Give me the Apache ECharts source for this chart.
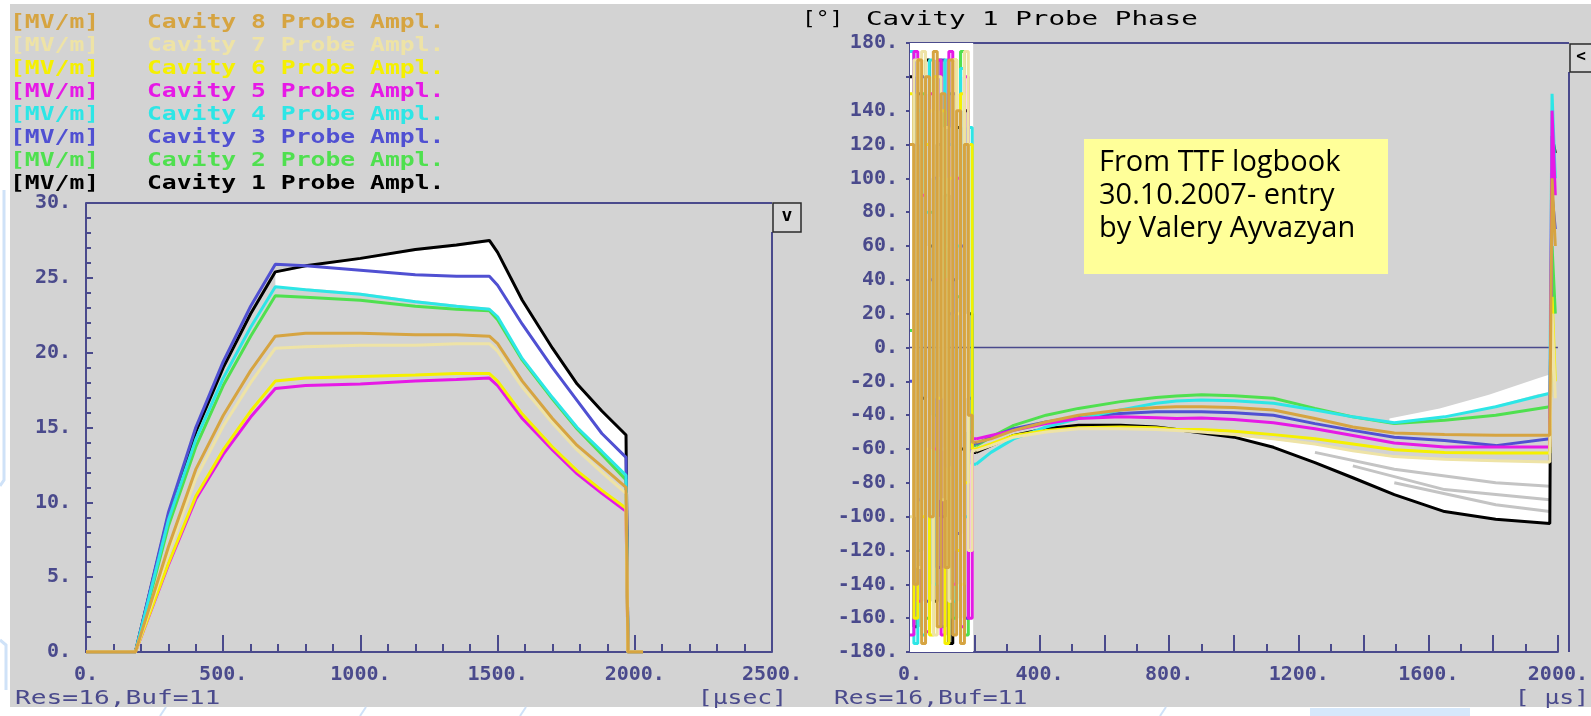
<!DOCTYPE html>
<html>
<head>
<meta charset="utf-8">
<script src="https://cdn.jsdelivr.net/npm/echarts@6.0.0/dist/echarts.min.js"></script>
<style>
  html, body { margin: 0; padding: 0; background: #ffffff; }
  #chart { width: 1591px; height: 716px; }
</style>
</head>
<body>
<div id="chart"></div>
<script>
// ---------- Probe amplitude (MV/m) vs time (usec) ----------
const ampTime = [0, 180, 300, 400, 500, 600, 690, 800, 1000, 1200, 1350, 1470, 1500, 1590, 1700, 1790, 1880, 1968, 1975, 2030];
const ampCav1 = [0, 0, 9.1, 14.7, 19.0, 22.6, 25.4, 25.8, 26.3, 26.9, 27.2, 27.5, 26.7, 23.5, 20.3, 17.9, 16.1, 14.5, 0, 0];
const ampCav2 = [0, 0, 8.4, 13.7, 17.8, 21.1, 23.8, 23.7, 23.5, 23.1, 22.9, 22.8, 22.2, 19.5, 16.9, 14.9, 13.2, 11.5, 0, 0];
const ampCav3 = [0, 0, 9.3, 15.0, 19.4, 23.1, 25.9, 25.8, 25.5, 25.2, 25.1, 25.1, 24.5, 21.9, 19.0, 16.8, 14.6, 13.0, 0, 0];
const ampCav4 = [0, 0, 8.8, 14.2, 18.3, 21.7, 24.4, 24.2, 23.9, 23.4, 23.1, 22.9, 22.4, 19.6, 17.0, 15.0, 13.4, 11.8, 0, 0];
const ampCav5 = [0, 0, 5.8, 10.2, 13.2, 15.7, 17.6, 17.8, 17.9, 18.1, 18.2, 18.3, 17.8, 15.6, 13.5, 11.9, 10.6, 9.4, 0, 0];
const ampCav6 = [0, 0, 5.9, 10.4, 13.5, 16.1, 18.1, 18.3, 18.4, 18.5, 18.6, 18.6, 18.1, 15.9, 13.7, 12.1, 10.8, 9.6, 0, 0];
const ampCav7 = [0, 0, 6.6, 11.6, 15.1, 18.0, 20.3, 20.4, 20.5, 20.5, 20.6, 20.6, 20.1, 17.7, 15.3, 13.5, 12.0, 10.6, 0, 0];
const ampCav8 = [0, 0, 7.0, 12.2, 15.8, 18.8, 21.1, 21.3, 21.3, 21.2, 21.2, 21.1, 20.6, 18.1, 15.6, 13.8, 12.4, 11.0, 0, 0];

// persistence envelope of earlier pulses (white)
const ampBandTime = [690, 800, 1000, 1200, 1350, 1470, 1500, 1590, 1700, 1790, 1880, 1968];
const ampBandHigh = [25.3, 25.7, 26.2, 26.8, 27.1, 27.4, 26.6, 23.4, 20.2, 17.8, 16.0, 14.4];
const ampBandLow  = [24.4, 24.3, 24.0, 23.5, 23.2, 23.0, 22.5, 19.7, 17.1, 15.1, 13.5, 11.9];

// ---------- Probe phase (deg) vs time (us) ----------
// before the RF pulse the phase is undefined and jumps over the full range
const noiseTime = [0, 12, 24, 36, 48, 60, 72, 84, 96, 108, 120, 132, 144, 156, 168, 180, 192, 204];
const noiseCav1 = [160, -165, 150, -30, 170, 60, -150, 120, -100, 90, -175, 40, 130, -60, 140, 20, -62, -62];
const noiseCav2 = [10, 170, -120, 150, -160, 80, -40, 170, -165, 60, 150, -160, 30, 175, -170, -50, -58, -58];
const noiseCav3 = [-20, 120, -90, 160, -150, 40, 100, -130, 170, -70, 20, 150, -110, 60, -160, -30, -57, -57];
const noiseCav4 = [175, -175, 140, -170, 80, 170, -140, 100, -60, 170, 120, -150, 60, 165, -100, 130, -69, -69];
const noiseCav5 = [-170, 175, -150, 90, -168, 150, -60, 170, -170, 40, 175, -140, 100, -165, 160, -160, -54, -54];
const noiseCav6 = [150, -160, 170, -100, 120, -170, 160, -30, 140, -175, 100, 170, -120, 150, -80, 120, -60, -60];
const noiseCav7 = [-100, 170, -130, 175, -60, 140, -170, 160, -90, 130, -150, 170, 20, -140, 175, -120, -61, -61];
const noiseCav8 = [120, -140, 170, -175, 160, -100, 175, -165, 150, -130, 170, -170, 140, -175, 120, -40, -56, -56];

const phaseTime = [204, 250, 320, 420, 520, 650, 760, 822, 900, 1000, 1122, 1250, 1367, 1495, 1650, 1808, 1975];
const phaseCav1 = [-62, -58, -52, -48, -46, -46, -47, -48.5, -50.5, -53, -59, -68, -77, -87, -97, -101.5, -104];
const phaseCav2 = [-58, -53, -46, -40, -36, -32, -29.5, -28.7, -28, -28.5, -30, -36, -41, -45, -43, -40, -35];
const phaseCav3 = [-57, -53, -48, -44, -41, -39, -38, -38, -38, -38.5, -40, -45, -49, -53, -55, -58, -54];
const phaseCav4 = [-69, -62, -54, -47, -42, -37, -33, -31.6, -31, -31.5, -33, -37, -41, -44.5, -41, -35, -27];
const phaseCav5 = [-54, -52, -49, -45, -42, -41, -41.5, -42, -41.7, -42.5, -44.5, -48, -52, -56.5, -58.8, -58.8, -58.8];
const phaseCav6 = [-60, -57, -52, -49, -47.5, -47, -47.5, -48.5, -48.5, -49.5, -51.5, -54, -57, -60.5, -62, -62.4, -62.4];
const phaseCav7 = [-61, -58, -53, -50, -48, -48, -48.5, -49, -50, -51.5, -54, -57, -61, -64.5, -66, -67, -67.7];
const phaseCav8 = [-56, -54, -49, -44, -40, -37, -35.5, -35, -35, -35.5, -37, -42, -47, -50.6, -51.5, -51.8, -51.8];

// end of the pulse: phase jumps away again
const spikeTime = [1982, 1992];
const spikeCav1 = [125, 115];
const spikeCav2 = [60, 20];
const spikeCav3 = [90, 70];
const spikeCav4 = [150, 100];
const spikeCav5 = [140, 90];
const spikeCav6 = [30, -20];
const spikeCav7 = [20, -30];
const spikeCav8 = [100, 60];

// persistence of earlier pulses on the phase plot
const phaseBandTime = [1000, 1122, 1250, 1367, 1495, 1650, 1808, 1975];
const phaseBandLow  = [-53, -59, -68, -77, -87, -97, -101.5, -104];
const phaseBandHigh = [-52.5, -54.5, -57.5, -61.5, -65, -66.5, -67.5, -68];
const phaseTopBandTime = [1480, 1635, 1787, 1941, 1975];
const phaseTopBandLow  = [-45, -41.5, -35.5, -27.5, -27];
const phaseTopBandHigh = [-42, -36, -28, -18, -16];
const traceTimeA = [1250, 1495, 1808, 1975];
const traceA = [-62, -72, -80, -82];
const traceTimeB = [1367, 1650, 1975];
const traceB = [-70, -84, -90];
const traceTimeC = [1495, 1808, 1975];
const traceC = [-80, -93, -97];
const noiseWindow = [0, 195];

// ---------- labels ----------
const cavityNames = ['Cavity 1', 'Cavity 2', 'Cavity 3', 'Cavity 4', 'Cavity 5', 'Cavity 6', 'Cavity 7', 'Cavity 8'];
const cavityColors = ['#000000', '#4fe04f', '#5050d2', '#2de6e6', '#e619e6', '#f5f000', '#eee3a6', '#d6a441'];
const ampUnit = '[MV/m]';
const ampTitleSuffix = ' Probe Ampl.';
const phaseUnit = '[°]';
const phaseTitle = 'Cavity 1 Probe Phase';
const statusText = 'Res=16,Buf=11';
const ampAxisUnit = '[µsec]';
const phaseAxisUnit = '[ µs]';
const noteLines = ['From TTF logbook', '30.10.2007- entry', 'by Valery Ayvazyan'];

// ---------- styling ----------
const AX = '#4a4a8c';
const MONO = '"DejaVu Sans Mono", "Liberation Mono", monospace';
const PANEL = '#d3d3d3';

const zip = (xs, ys) => xs.map((x, i) => [x, ys[i]]);
const ampSeries = [ampCav1, ampCav2, ampCav3, ampCav4, ampCav5, ampCav6, ampCav7, ampCav8];
const noiseSeries = [noiseCav1, noiseCav2, noiseCav3, noiseCav4, noiseCav5, noiseCav6, noiseCav7, noiseCav8];
const phaseSeries = [phaseCav1, phaseCav2, phaseCav3, phaseCav4, phaseCav5, phaseCav6, phaseCav7, phaseCav8];
const spikeSeries = [spikeCav1, spikeCav2, spikeCav3, spikeCav4, spikeCav5, spikeCav6, spikeCav7, spikeCav8];

function bandSeries(axisIdx, xs, lo, hi, color) {
  return {
    type: 'custom', xAxisIndex: axisIdx, yAxisIndex: axisIdx, silent: true,
    data: [[xs[0], lo[0]]],
    renderItem: (params, api) => {
      const top = xs.map((x, i) => api.coord([x, hi[i]]));
      const bottom = xs.map((x, i) => api.coord([x, lo[i]])).reverse();
      return { type: 'polygon', shape: { points: top.concat(bottom) }, style: { fill: color } };
    }
  };
}

function monoText(x, y, text, color, opt) {
  opt = opt || {};
  return {
    type: 'text', x: x, y: y, z: 20, scaleX: opt.scaleX || 1.3, silent: true,
    style: {
      text: text, fill: color, align: opt.align || 'left', verticalAlign: 'middle',
      font: (opt.weight || 'bold') + ' ' + (opt.size || 19) + 'px ' + MONO
    }
  };
}

const chart = echarts.init(document.getElementById('chart'), null, { renderer: 'canvas' });

const series = [];
// amplitude plot
series.push(bandSeries(0, ampBandTime, ampBandLow, ampBandHigh, '#ffffff'));
ampSeries.forEach((vals, i) => {
  series.push({
    name: cavityNames[i] + ampTitleSuffix, type: 'line', xAxisIndex: 0, yAxisIndex: 0,
    data: zip(ampTime, vals), symbol: 'none', silent: true,
    lineStyle: { color: cavityColors[i], width: 3 }
  });
});
// phase plot
series.push({
  type: 'line', xAxisIndex: 1, yAxisIndex: 1, data: [[0, 0], [2000, 0]],
  symbol: 'none', silent: true, lineStyle: { color: AX, width: 1.5 }
});
series.push({
  type: 'custom', xAxisIndex: 1, yAxisIndex: 1, silent: true, data: [[0, 0]],
  renderItem: (params, api) => {
    const a = api.coord([noiseWindow[0], 180]);
    const b = api.coord([noiseWindow[1], -180]);
    return { type: 'rect', shape: { x: a[0], y: a[1], width: b[0] - a[0], height: b[1] - a[1] }, style: { fill: '#ffffff' } };
  }
});
series.push(bandSeries(1, phaseBandTime, phaseBandLow, phaseBandHigh, '#ffffff'));
series.push(bandSeries(1, phaseTopBandTime, phaseTopBandLow, phaseTopBandHigh, '#ffffff'));
[[traceTimeA, traceA], [traceTimeB, traceB], [traceTimeC, traceC]].forEach(tr => {
  series.push({
    type: 'line', xAxisIndex: 1, yAxisIndex: 1, data: zip(tr[0], tr[1]),
    symbol: 'none', silent: true, lineStyle: { color: '#c4c4c4', width: 3 }
  });
});
noiseSeries.forEach((vals, i) => {
  series.push({
    type: 'line', xAxisIndex: 1, yAxisIndex: 1, data: zip(noiseTime, vals),
    step: 'end', symbol: 'none', silent: true,
    lineStyle: { color: cavityColors[i], width: 3 }
  });
});
phaseSeries.forEach((vals, i) => {
  const pts = zip(phaseTime, vals).concat(zip(spikeTime, spikeSeries[i]));
  series.push({
    name: cavityNames[i] + ' Probe Phase', type: 'line', xAxisIndex: 1, yAxisIndex: 1,
    data: pts, symbol: 'none', silent: true,
    lineStyle: { color: cavityColors[i], width: 3 }
  });
});

const axisLabelStyle = { color: AX, fontFamily: MONO, fontSize: 20, fontWeight: 'bold' };

const graphic = [
  { type: 'rect', z: -5, silent: true, shape: { x: 10, y: 4, width: 1581, height: 703 }, style: { fill: PANEL } },
  // slide decoration peeking round the screenshot
  { type: 'polyline', z: -5, silent: true, shape: { points: [[4, 190], [4, 480], [0, 486]] }, style: { stroke: '#cfe2f8', lineWidth: 3, fill: null } },
  { type: 'polyline', z: -5, silent: true, shape: { points: [[0, 640], [6, 645], [6, 690]] }, style: { stroke: '#cfe2f8', lineWidth: 3, fill: null } },
  { type: 'rect', z: -5, silent: true, shape: { x: 1310, y: 708, width: 160, height: 8 }, style: { fill: '#d6e8fb' } },
  { type: 'line', z: -5, silent: true, shape: { x1: 360, y1: 716, x2: 366, y2: 707 }, style: { stroke: '#cfe2f8', lineWidth: 2 } },
  { type: 'line', z: -5, silent: true, shape: { x1: 160, y1: 716, x2: 166, y2: 707 }, style: { stroke: '#cfe2f8', lineWidth: 2 } },
  { type: 'line', z: -5, silent: true, shape: { x1: 520, y1: 716, x2: 526, y2: 707 }, style: { stroke: '#cfe2f8', lineWidth: 2 } },
  { type: 'line', z: -5, silent: true, shape: { x1: 1160, y1: 716, x2: 1166, y2: 707 }, style: { stroke: '#cfe2f8', lineWidth: 2 } },

  // plot frames
  { type: 'line', z: 1, silent: true, shape: { x1: 86, y1: 203, x2: 772, y2: 203 }, style: { stroke: AX, lineWidth: 2 } },
  { type: 'line', z: 1, silent: true, shape: { x1: 772, y1: 232, x2: 772, y2: 652 }, style: { stroke: AX, lineWidth: 2 } },
  { type: 'line', z: 1, silent: true, shape: { x1: 910, y1: 43, x2: 1569, y2: 43 }, style: { stroke: AX, lineWidth: 2 } },
  { type: 'line', z: 1, silent: true, shape: { x1: 1569, y1: 72, x2: 1569, y2: 652 }, style: { stroke: AX, lineWidth: 2 } },

  // scale buttons
  { type: 'rect', z: 20, silent: true, shape: { x: 773, y: 203, width: 28, height: 29 }, style: { fill: '#d8d8d8', stroke: '#2a2a2a', lineWidth: 1.5 } },
  { type: 'text', z: 21, silent: true, x: 787, y: 216, style: { text: 'v', fill: '#000', align: 'center', verticalAlign: 'middle', font: 'bold 18px ' + MONO } },
  { type: 'rect', z: 20, silent: true, shape: { x: 1570, y: 44, width: 24, height: 28 }, style: { fill: '#d8d8d8', stroke: '#2a2a2a', lineWidth: 1.5 } },
  { type: 'text', z: 21, silent: true, x: 1581, y: 57, style: { text: '<', fill: '#000', align: 'center', verticalAlign: 'middle', font: 'bold 16px ' + MONO } },

  // phase plot heading
  monoText(802, 20, phaseUnit, '#000000', { weight: 'normal', scaleX: 1.2 }),
  monoText(866, 20, phaseTitle, '#000000', { weight: 'normal', scaleX: 1.45 }),

  // footer lines
  monoText(15, 699, statusText, AX, { weight: 'normal', scaleX: 1.38 }),
  monoText(787, 699, ampAxisUnit, AX, { weight: 'normal', align: 'right', scaleX: 1.3 }),
  monoText(834, 699, statusText, AX, { weight: 'normal', scaleX: 1.3 }),
  monoText(1589, 699, phaseAxisUnit, AX, { weight: 'normal', align: 'right', scaleX: 1.3 }),

  // logbook note
  { type: 'rect', z: 20, silent: true, shape: { x: 1084, y: 139, width: 304, height: 135 }, style: { fill: '#ffff99' } }
];

noteLines.forEach((t, i) => {
  graphic.push({
    type: 'text', z: 21, silent: true, x: 1099, y: 163 + i * 33,
    style: { text: t, fill: '#000', verticalAlign: 'middle', font: '29px "Comic Sans MS", "Open Sans", sans-serif' }
  });
});

// amplitude legend, cavity 8 on top down to cavity 1
for (let k = 0; k < 8; k++) {
  const i = 7 - k;
  const y = 23.5 + k * 22.9;
  graphic.push(monoText(10, y, ampUnit, cavityColors[i]));
  graphic.push(monoText(147, y, cavityNames[i] + ampTitleSuffix, cavityColors[i]));
}

const option = {
  animation: false,
  backgroundColor: '#ffffff',
  grid: [
    { left: 86, top: 203, width: 686, height: 449 },
    { left: 910, top: 43, width: 657, height: 609 }
  ],
  xAxis: [
    {
      gridIndex: 0, type: 'value', min: 0, max: 2500, interval: 500,
      axisLine: { show: true, onZero: false, lineStyle: { color: AX, width: 2 } },
      axisTick: { show: true, inside: true, length: 17, lineStyle: { color: AX, width: 2 } },
      minorTick: { show: true, splitNumber: 5, length: 8, lineStyle: { color: AX, width: 2 } },
      axisLabel: Object.assign({ margin: 13, formatter: v => v + '.' }, axisLabelStyle),
      splitLine: { show: false }
    },
    {
      gridIndex: 1, type: 'value', min: 0, max: 2000, interval: 200,
      axisLine: { show: true, onZero: false, lineStyle: { color: AX, width: 2 } },
      axisTick: { show: true, inside: true, length: 17, lineStyle: { color: AX, width: 2 } },
      minorTick: { show: true, splitNumber: 2, length: 8, lineStyle: { color: AX, width: 2 } },
      axisLabel: Object.assign({ margin: 13, formatter: v => (v % 400 === 0 ? v + '.' : '') }, axisLabelStyle),
      splitLine: { show: false }
    }
  ],
  yAxis: [
    {
      gridIndex: 0, type: 'value', min: 0, max: 30, interval: 5,
      axisLine: { show: true, lineStyle: { color: AX, width: 2 } },
      axisTick: { show: true, inside: true, length: 7, lineStyle: { color: AX, width: 2 } },
      minorTick: { show: true, splitNumber: 5, length: 5, lineStyle: { color: AX, width: 2 } },
      axisLabel: Object.assign({ margin: 15, formatter: v => v + '.' }, axisLabelStyle),
      splitLine: { show: false }
    },
    {
      gridIndex: 1, type: 'value', min: -180, max: 180, interval: 20,
      axisLine: { show: true, lineStyle: { color: AX, width: 2 } },
      axisTick: { show: true, inside: false, length: 4, lineStyle: { color: AX, width: 2 } },
      axisLabel: Object.assign({ margin: 12, formatter: v => (v === 160 ? '' : v + '.') }, axisLabelStyle),
      splitLine: { show: false }
    }
  ],
  graphic: graphic,
  series: series
};

chart.setOption(option);
</script>
</body>
</html>
